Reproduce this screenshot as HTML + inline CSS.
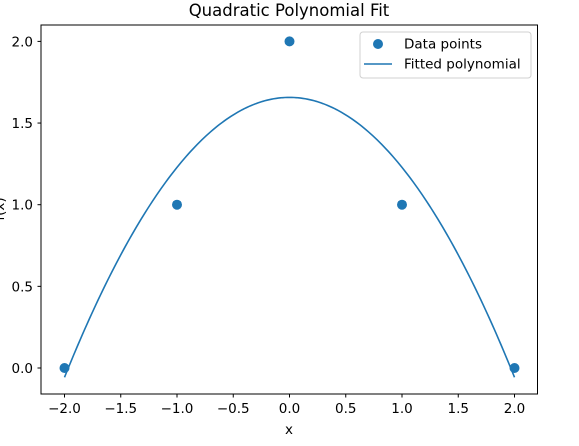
<!DOCTYPE html>
<html><head><meta charset="utf-8"><style>
body{margin:0;background:#fff;}
svg text{font-family:"DejaVu Sans","Liberation Sans",sans-serif;}
</style></head><body>
<svg id="chart" width="579" height="441" viewBox="0 0 579 441" xmlns="http://www.w3.org/2000/svg">
<rect width="579" height="441" fill="#fff"/>
<text x="289" y="16" text-anchor="middle" font-size="16.5">Quadratic Polynomial Fit</text>
<g id="ticks"></g>
<path id="fitline" fill="none" stroke="#1f77b4" stroke-width="1.6"/>
<g id="points"></g>
<rect x="41" y="25" width="496.5" height="369" fill="none" stroke="#000" stroke-width="1"/>
<text x="289" y="434" text-anchor="middle" font-size="13.5">x</text>
<text transform="translate(4,209) rotate(-90)" text-anchor="middle" font-size="13.5">f(x)</text>
<g>
<rect x="360" y="32" width="171" height="46" rx="3" fill="#fff" stroke="#ccc" stroke-width="1" opacity="0.9"/>
<circle cx="378" cy="44" r="5" fill="#1f77b4"/>
<text x="404" y="48.5" font-size="13.5">Data points</text>
<line x1="364" y1="64" x2="392" y2="64" stroke="#1f77b4" stroke-width="1.6"/>
<text x="404" y="68.5" font-size="13.5">Fitted polynomial</text>
</g>
</svg>
<script>
const xData=[-2,-1,0,1,2];
const yData=[0,1,2,1,0];
const xTicks=[-2,-1.5,-1,-0.5,0,0.5,1,1.5,2];
const yTicks=[0,0.5,1,1.5,2];
const NS="http://www.w3.org/2000/svg";
function sx(v){return 289.5+v*112.5;}
function sy(v){return 368-v*163.3;}
function fit(xs,ys){
  let S=[0,0,0,0,0],T=[0,0,0];
  for(let i=0;i<xs.length;i++){for(let k=0;k<5;k++)S[k]+=Math.pow(xs[i],k);for(let k=0;k<3;k++)T[k]+=ys[i]*Math.pow(xs[i],k);}
  const M=[[S[0],S[1],S[2],T[0]],[S[1],S[2],S[3],T[1]],[S[2],S[3],S[4],T[2]]];
  for(let i=0;i<3;i++){for(let j=i+1;j<3;j++){const f=M[j][i]/M[i][i];for(let k=i;k<4;k++)M[j][k]-=f*M[i][k];}}
  const c=[0,0,0];
  for(let i=2;i>=0;i--){let s=M[i][3];for(let k=i+1;k<3;k++)s-=M[i][k]*c[k];c[i]=s/M[i][i];}
  return c;
}
const c=fit(xData,yData);
const xmin=Math.min(...xData),xmax=Math.max(...xData);
let d="";
for(let i=0;i<=200;i++){const x=xmin+(xmax-xmin)*i/200;const y=c[0]+c[1]*x+c[2]*x*x;d+=(i?"L":"M")+sx(x).toFixed(2)+","+sy(y).toFixed(2);}
document.getElementById("fitline").setAttribute("d",d);
const pg=document.getElementById("points");
xData.forEach((x,i)=>{
  const el=document.createElementNS(NS,"circle");
  el.setAttribute("cx",sx(x));el.setAttribute("cy",sy(yData[i]));el.setAttribute("r",5);el.setAttribute("fill","#1f77b4");
  
  
  pg.appendChild(el);
});
function fmt(v){return (v<0?"\u2212":"")+Math.abs(v).toFixed(1);}
const tg=document.getElementById("ticks");
xTicks.forEach(v=>{
  const l=document.createElementNS(NS,"line");
  l.setAttribute("x1",sx(v));l.setAttribute("x2",sx(v));l.setAttribute("y1",394);l.setAttribute("y2",397.5);l.setAttribute("stroke","#000");
  
  
  tg.appendChild(l);
  const t=document.createElementNS(NS,"text");
  t.setAttribute("x",sx(v));t.setAttribute("y",413);t.setAttribute("text-anchor","middle");t.setAttribute("font-size","13.5");
  t.textContent=fmt(v);
  
  
  tg.appendChild(t);
});
yTicks.forEach(v=>{
  const l=document.createElementNS(NS,"line");
  l.setAttribute("x1",37.5);l.setAttribute("x2",41);l.setAttribute("y1",sy(v));l.setAttribute("y2",sy(v));l.setAttribute("stroke","#000");
  
  
  tg.appendChild(l);
  const t=document.createElementNS(NS,"text");
  t.setAttribute("x",33);t.setAttribute("y",sy(v)+5);t.setAttribute("text-anchor","end");t.setAttribute("font-size","13.5");
  t.textContent=fmt(v);
  
  
  tg.appendChild(t);
});
</script>
</body></html>
